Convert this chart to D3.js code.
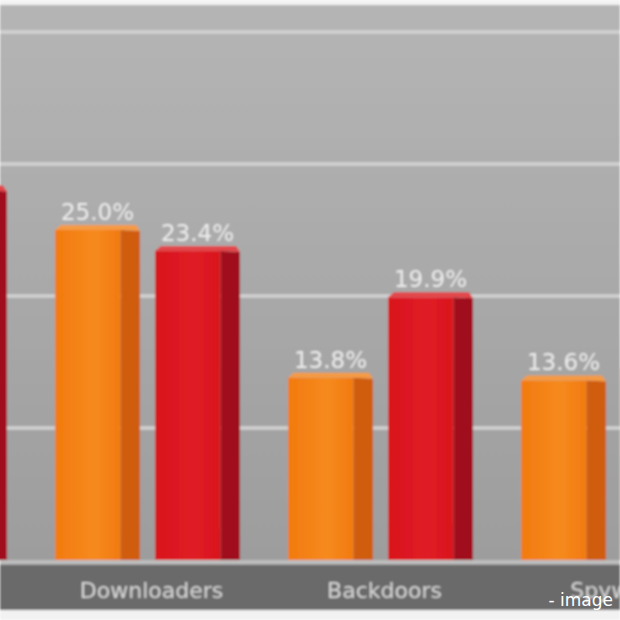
<!DOCTYPE html>
<html>
<head>
<meta charset="utf-8">
<script src="https://cdn.jsdelivr.net/npm/d3@7"></script>
<style>
html,body{margin:0;padding:0;background:#ffffff;overflow:hidden;}
svg{display:block;}
</style>
</head>
<body>
<svg id="chart" width="620" height="620"></svg>
<script>
// ---- data ----
const categories = ["Trojans", "Downloaders", "Backdoors", "Spyware"];
const seriesNames = ["Period 1", "Period 2"];
const series1 = [26.5, 25.0, 13.8, 13.6];
const series2 = [28.0, 23.4, 19.9, 14.5];
const yTicks = [0, 10, 20, 30, 40];
const valueFormat = d => d.toFixed(1) + "%";

// ---- layout ----
const W = 620, H = 620;
const svg = d3.select("#chart");
const defs = svg.append("defs");

const bg = defs.append("linearGradient").attr("id","bg").attr("x1",0).attr("y1",0).attr("x2",0).attr("y2",1);
bg.append("stop").attr("offset","0%").attr("stop-color","#b5b5b5");
bg.append("stop").attr("offset","100%").attr("stop-color","#9d9d9d");

const blur = defs.append("filter").attr("id","soft").attr("x","-5%").attr("y","-5%").attr("width","110%").attr("height","110%");
blur.append("feGaussianBlur").attr("stdDeviation",1.2);

const g = svg.append("g").attr("filter","url(#soft)");

// backgrounds
g.append("rect").attr("x",0).attr("y",0).attr("width",W).attr("height",H).attr("fill","#f2f2f2");
g.append("rect").attr("x",0).attr("y",5).attr("width",W).attr("height",560).attr("fill","url(#bg)");
g.append("rect").attr("x",0).attr("y",565).attr("width",W).attr("height",45).attr("fill","#6a6a6a");

// scales
const step = 233;
const x = d3.scaleBand().domain(categories).range([-188, -188 + step * categories.length]).padding(0);
const xs = d3.scaleBand().domain(seriesNames).range([10, 195]).paddingInner(0.15).paddingOuter(0);
const y = d3.scaleLinear().domain([0, 40]).range([560, 32]);

// gridlines
g.append("g").selectAll("line").data(yTicks.filter(t => t > 0)).join("line")
  .attr("x1",0).attr("x2",W)
  .attr("y1",d=>y(d)).attr("y2",d=>y(d))
  .attr("stroke","#d2d2d2").attr("stroke-width",3.5);
// floor line
g.append("line").attr("x1",0).attr("x2",W).attr("y1",y(0)+2).attr("y2",y(0)+2)
  .attr("stroke","#bdbdbd").attr("stroke-width",4);

// bars
const palettes = [
  {front:"#f27a0e", frontL:"#f68a1e", side:"#cf5d10", top:"#f59a45"},
  {front:"#d8121c", frontL:"#e01e26", side:"#a00f1c", top:"#e2464b"}
];
palettes.forEach((p,i)=>{
  const gr = defs.append("linearGradient").attr("id","fg"+i).attr("x1",0).attr("y1",0).attr("x2",1).attr("y2",0);
  gr.append("stop").attr("offset","0%").attr("stop-color",p.front);
  gr.append("stop").attr("offset","60%").attr("stop-color",p.frontL);
  gr.append("stop").attr("offset","100%").attr("stop-color",p.front);
});

const rows = [];
categories.forEach((c,ci)=>{
  rows.push({cat:c, s:seriesNames[0], v:series1[ci], k:0});
  rows.push({cat:c, s:seriesNames[1], v:series2[ci], k:1});
});

const bw = xs.bandwidth();
const frontW = bw * 0.77;
const depth = 5;

const bars = g.append("g").selectAll("g").data(rows).join("g");
bars.each(function(d){
  const gg = d3.select(this);
  const x0 = x(d.cat) + xs(d.s);
  const yt = y(d.v), yb = y(0);
  const p = palettes[d.k];
  // side face
  gg.append("path")
    .attr("d", `M${x0+frontW},${yt} L${x0+bw},${yt-depth+6} L${x0+bw},${yb} L${x0+frontW},${yb} Z`)
    .attr("fill", p.side);
  // front face
  gg.append("rect").attr("x",x0).attr("y",yt).attr("width",frontW).attr("height",yb-yt)
    .attr("fill","url(#fg"+d.k+")");
  // top face
  gg.append("path")
    .attr("d", `M${x0},${yt} L${x0+6},${yt-depth} L${x0+bw-4},${yt-depth} L${x0+bw},${yt-depth+6} L${x0+frontW},${yt} Z`)
    .attr("fill", p.top);
  // value label
  gg.append("text")
    .attr("x", x0 + bw/2).attr("y", yt - 10)
    .attr("text-anchor","middle")
    .attr("font-family","DejaVu Sans, sans-serif")
    .attr("font-size",23)
    .attr("fill","#ececec")
    .text(valueFormat(d.v));
});

// category axis labels
g.append("g").selectAll("text").data(categories).join("text")
  .attr("x", d => x(d) + x.bandwidth()/2 - 10)
  .attr("y", 598)
  .attr("text-anchor","middle")
  .attr("font-family","DejaVu Sans, sans-serif")
  .attr("font-size",22)
  .attr("fill","#d6d6d6")
  .text(d=>d);

// caption overlay
svg.append("text").attr("x",613).attr("y",606).attr("text-anchor","end")
  .attr("font-family","DejaVu Sans, sans-serif")
  .attr("font-size",17).attr("fill","#ffffff")
  .text("- image");
</script>
</body>
</html>
